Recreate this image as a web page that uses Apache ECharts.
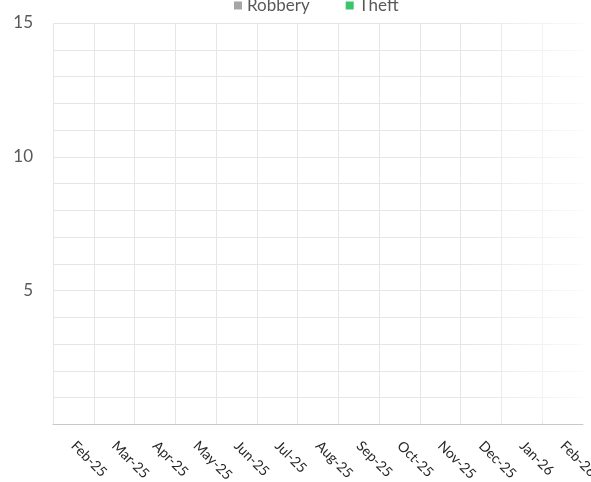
<!DOCTYPE html>
<html>
<head>
<meta charset="utf-8">
<script src="https://cdn.jsdelivr.net/npm/echarts@6/dist/echarts.min.js"></script>
<style>
html,body{margin:0;padding:0;background:#fff;}
#chart{width:591px;height:482px;}
</style>
</head>
<body>
<div id="chart"></div>
<script>
// Data (chart shows no visible values)
var categories = ['Feb-25','Mar-25','Apr-25','May-25','Jun-25','Jul-25','Aug-25','Sep-25','Oct-25','Nov-25','Dec-25','Jan-26','Feb-26'];
var robbery = [0,0,0,0,0,0,0,0,0,0,0,0,0];
var theft = [0,0,0,0,0,0,0,0,0,0,0,0,0];
var yLabels = [5, 10, 15];

var chart = echarts.init(document.getElementById('chart'), null, {renderer:'canvas'});
var font = 'Lato, "Open Sans", sans-serif';
chart.setOption({
  animation: false,
  backgroundColor: '#ffffff',
  legend: {
    data: ['Robbery','Theft'],
    left: 229,
    top: -8,
    itemWidth: 8,
    itemHeight: 8,
    itemGap: 36,
    icon: 'rect',
    textStyle: {color: '#595959', fontSize: 17, fontFamily: font}
  },
  grid: {left: 53, right: 8, top: 23, bottom: 57.5, containLabel: false, outerBoundsMode: 'none'},
  xAxis: {
    type: 'category',
    data: categories,
    boundaryGap: true,
    axisLine: {show: true, lineStyle: {color: '#c8c8c8', width: 1}},
    axisTick: {show: false},
    axisLabel: {rotate: -45, margin: 19, interval: 0, color: '#262626', fontSize: 14, fontFamily: font},
    splitLine: {show: true, showMaxLine: false, lineStyle: {color: '#e6e6e6', width: 1}}
  },
  yAxis: {
    type: 'value',
    min: 0, max: 15, interval: 1,
    axisLine: {show: false},
    axisTick: {show: false},
    axisLabel: {
      margin: 20,
      color: '#595959', fontSize: 17, fontFamily: font,
      formatter: function(v){ return yLabels.indexOf(v) >= 0 ? String(v) : ''; }
    },
    splitLine: {show: true, lineStyle: {color: '#e6e6e6', width: 1}}
  },
  graphic: [{
    type: 'rect',
    left: 470, top: 15,
    shape: {width: 121, height: 406},
    silent: true,
    z: 100,
    style: {
      fill: new echarts.graphic.LinearGradient(0, 0, 1, 0, [
        {offset: 0, color: 'rgba(255,255,255,0)'},
        {offset: 1, color: 'rgba(255,255,255,0.85)'}
      ])
    }
  }],
  series: [
    {name: 'Robbery', type: 'bar', data: robbery, itemStyle: {color: '#a6a6a6'}},
    {name: 'Theft', type: 'bar', data: theft, itemStyle: {color: '#3cc36b'}}
  ]
});
</script>
</body>
</html>
